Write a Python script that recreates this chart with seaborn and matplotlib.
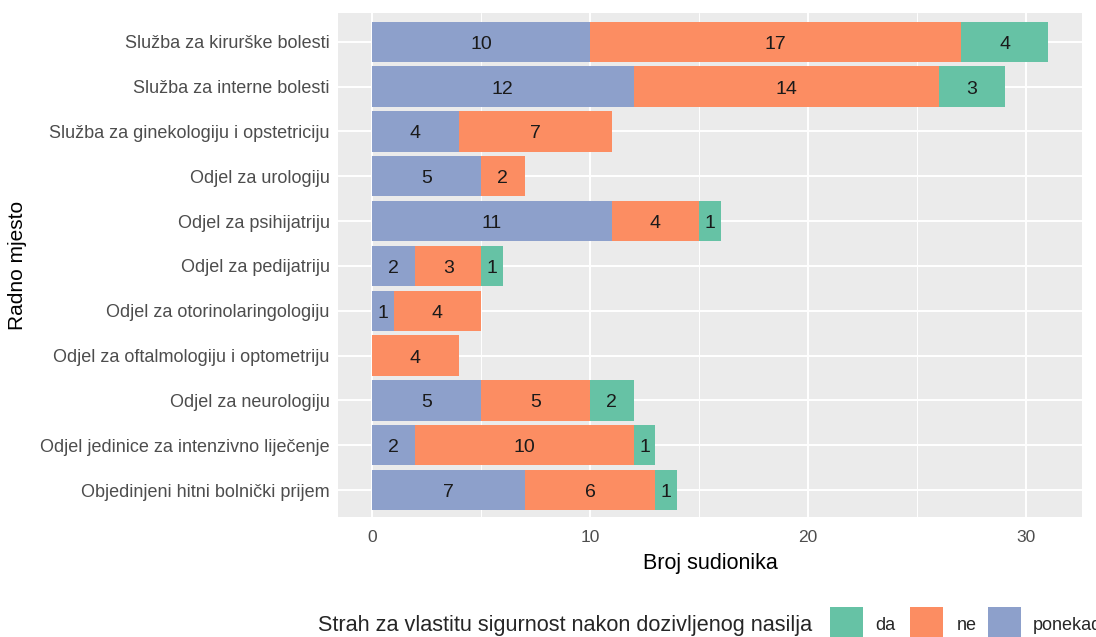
import numpy as np
import pandas as pd
import matplotlib
matplotlib.use("Agg")
import matplotlib.pyplot as plt
import seaborn as sns
from matplotlib.patches import Rectangle
from matplotlib import font_manager
from matplotlib.ticker import MultipleLocator

categories = [
    "Služba za kirurške bolesti",
    "Služba za interne bolesti",
    "Služba za ginekologiju i opstetriciju",
    "Odjel za urologiju",
    "Odjel za psihijatriju",
    "Odjel za pedijatriju",
    "Odjel za otorinolaringologiju",
    "Odjel za oftalmologiju i optometriju",
    "Odjel za neurologiju",
    "Odjel jedinice za intenzivno liječenje",
    "Objedinjeni hitni bolnički prijem",
]
ponekad = [10, 12, 4, 5, 11, 2, 1, 0, 5, 2, 7]
ne = [17, 14, 7, 2, 4, 3, 4, 4, 5, 10, 6]
da = [4, 3, 0, 0, 1, 1, 0, 0, 2, 1, 1]
levels = ["da", "ne", "ponekad"]
x_ticks = [0, 10, 20, 30]
legend_title = "Strah za vlastitu sigurnost nakon dozivljenog nasilja"
x_label = "Broj sudionika"
y_label = "Radno mjesto"

sns.set_theme(style="white")
names = {f.name for f in font_manager.fontManager.ttflist}
base = "Liberation Sans" if "Liberation Sans" in names else "DejaVu Sans"
plt.rcParams["font.family"] = [base, "DejaVu Sans"]

palette = dict(zip(levels, sns.color_palette("Set2", 3)))

df = pd.DataFrame({"cat": categories, "ponekad": ponekad, "ne": ne, "da": da})
df["c1"] = df["ponekad"]
df["c2"] = df["ponekad"] + df["ne"]
df["c3"] = df["c2"] + df["da"]

W, H = 1096, 637
fig = plt.figure(figsize=(W / 100, H / 100), dpi=100)
ax = fig.add_axes([338 / W, 1 - 517 / H, (1082 - 338) / W, (517 - 13) / H])
ax.set_facecolor("#EBEBEB")
ax.set_axisbelow(True)

for col, lev in [("c3", "da"), ("c2", "ne"), ("c1", "ponekad")]:
    sns.barplot(data=df, y="cat", x=col, color=palette[lev], orient="h",
                width=0.9, linewidth=0, saturation=1, errorbar=None, ax=ax)

fs = 14
for i, row in df.iterrows():
    start = 0
    for lev in ["ponekad", "ne", "da"]:
        v = row[lev]
        if v > 0:
            ax.annotate(str(v), (start + v / 2, i), xytext=(0, -0.36 * fs),
                        textcoords="offset points", ha="center", va="baseline",
                        fontsize=fs, color="#1a1a1a")
        start += v

ax.set_xlim(-1.55, 32.55)
ax.set_ylim(len(categories) - 0.4, -0.64)
ax.set_xticks(x_ticks)
ax.xaxis.set_minor_locator(MultipleLocator(5))
ax.grid(True, which="major", axis="both", color="white", linewidth=1.4)
ax.grid(True, which="minor", axis="x", color="white", linewidth=0.7)
ax.tick_params(axis="x", which="minor", length=0)
ax.tick_params(axis="both", which="major", length=4, width=1, color="#333333",
               labelcolor="#4D4D4D", pad=2)
ax.tick_params(axis="y", labelsize=13)
ax.tick_params(axis="x", labelsize=12.5, pad=5)
for s in ax.spines.values():
    s.set_visible(False)
ax.set_xlabel(x_label, fontsize=15.5, color="black", labelpad=6)
ax.set_ylabel("")
fig.text(18 / W, 1 - 265 / H, y_label, rotation=90, fontsize=15, color="black",
         ha="center", va="center")

# legend (bottom, horizontal, title on the left)
ly = 1 - 625 / H
fig.text(318 / W, ly, legend_title, fontsize=15.6, va="center", ha="left")
key_x = [830, 910, 988]
txt_x = [875, 957, 1033]
for lev, kx, tx in zip(levels, key_x, txt_x):
    fig.add_artist(Rectangle((kx / W, 1 - 641 / H), 33 / W, 34 / H,
                             transform=fig.transFigure, facecolor=palette[lev],
                             edgecolor="none"))
    fig.text(tx / W, ly, lev, fontsize=13, va="center", ha="left")

fig.savefig("out.png", dpi=100)
